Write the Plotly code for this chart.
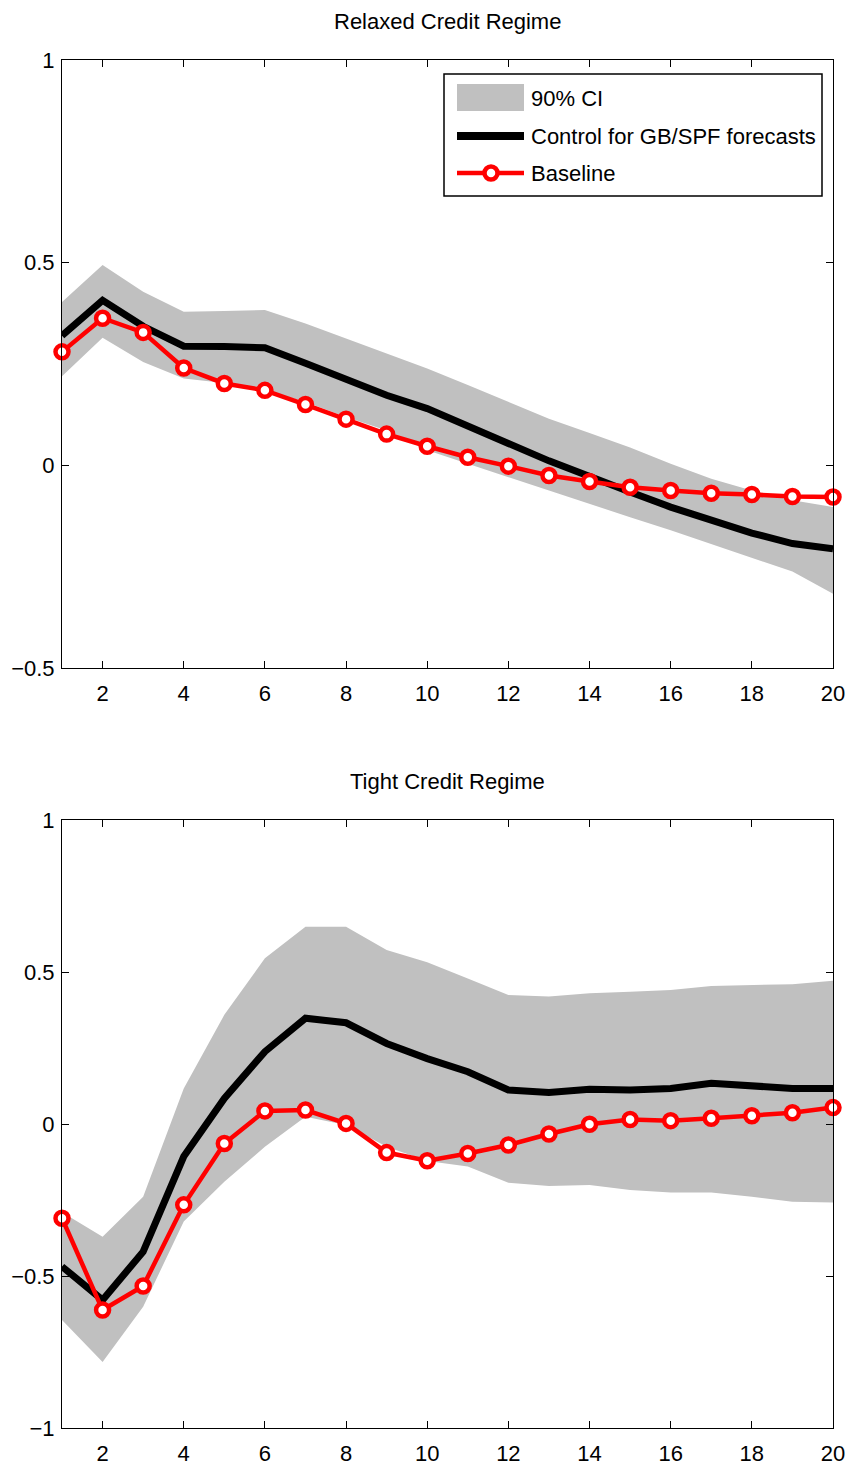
import plotly.graph_objects as go

horizon = list(range(1, 21))

# Relaxed credit regime
relaxed_baseline = [0.28, 0.363, 0.328, 0.24, 0.202, 0.185, 0.15, 0.114, 0.077, 0.047,
                    0.02, -0.002, -0.025, -0.04, -0.054, -0.062, -0.069, -0.072, -0.077, -0.078]
relaxed_control = [0.32, 0.407, 0.343, 0.294, 0.293, 0.29, 0.252, 0.212, 0.173, 0.14,
                   0.099, 0.054, 0.011, -0.029, -0.066, -0.103, -0.136, -0.167, -0.193, -0.206]
relaxed_ci_upper = [0.403, 0.494, 0.428, 0.379, 0.381, 0.383, 0.35, 0.313, 0.276, 0.239,
                    0.198, 0.156, 0.115, 0.08, 0.044, 0.004, -0.033, -0.062, -0.086, -0.103]
relaxed_ci_lower = [0.22, 0.315, 0.255, 0.214, 0.203, 0.185, 0.156, 0.119, 0.086, 0.037,
                    0.004, -0.029, -0.062, -0.095, -0.128, -0.16, -0.193, -0.228, -0.262, -0.317]

# Tight credit regime
tight_baseline = [-0.31, -0.612, -0.533, -0.266, -0.064, 0.043, 0.046, 0.002, -0.094, -0.121,
                  -0.097, -0.069, -0.033, -0.001, 0.015, 0.011, 0.019, 0.027, 0.037, 0.054]
tight_control = [-0.469, -0.579, -0.42, -0.107, 0.084, 0.238, 0.348, 0.333, 0.265, 0.215,
                 0.172, 0.112, 0.104, 0.114, 0.112, 0.117, 0.134, 0.126, 0.117, 0.117]
tight_ci_upper = [-0.29, -0.371, -0.239, 0.117, 0.359, 0.545, 0.649, 0.649, 0.572, 0.532,
                  0.479, 0.424, 0.419, 0.43, 0.435, 0.441, 0.454, 0.457, 0.46, 0.471]
tight_ci_lower = [-0.645, -0.783, -0.601, -0.321, -0.19, -0.075, 0.024, -0.003, -0.075, -0.122,
                  -0.14, -0.193, -0.204, -0.201, -0.217, -0.225, -0.225, -0.239, -0.256, -0.258]

titles = ["Relaxed Credit Regime", "Tight Credit Regime"]
legend_labels = ["90% CI", "Control for GB/SPF forecasts", "Baseline"]
x_ticks = list(range(2, 21, 2))

FONT = "Liberation Sans Narrow, Liberation Sans, Arial, sans-serif"
FS = 22
GRAY = "#c0c0c0"
RED = "#ff0000"

W, H = 852, 1471
ML, MR, MT, MB = 62, 19, 60, 43
PW, PH = W - ML - MR, H - MT - MB


def px_x(px):
    return (px - ML) / PW


def px_y(py):
    return (H - MB - py) / PH


fig = go.Figure()

panels = [
    (relaxed_baseline, relaxed_control, relaxed_ci_upper, relaxed_ci_lower, "x", "y"),
    (tight_baseline, tight_control, tight_ci_upper, tight_ci_lower, "x2", "y2"),
]

for base, ctrl, up, lo, xa, ya in panels:
    fig.add_trace(go.Scatter(
        x=horizon + horizon[::-1], y=up + lo[::-1], fill="toself",
        fillcolor=GRAY, line=dict(width=0, color=GRAY), mode="lines",
        name=legend_labels[0], showlegend=False, xaxis=xa, yaxis=ya, hoverinfo="skip"))
    fig.add_trace(go.Scatter(
        x=horizon, y=ctrl, mode="lines", line=dict(color="black", width=7),
        name=legend_labels[1], showlegend=False, xaxis=xa, yaxis=ya))
    fig.add_trace(go.Scatter(
        x=horizon, y=base, mode="lines+markers", line=dict(color=RED, width=4.5),
        marker=dict(symbol="circle", size=13, color="white", line=dict(color=RED, width=4.5)),
        name=legend_labels[2], showlegend=False, xaxis=xa, yaxis=ya, cliponaxis=False))

axis_common = dict(showline=True, linecolor="black", linewidth=1, mirror="ticks",
                   ticks="inside", ticklen=7, tickcolor="black", showgrid=False,
                   zeroline=False, automargin=False,
                   tickfont=dict(family=FONT, size=FS, color="black"))

top_bottom = px_y(668)
bot_top = px_y(820)

# manual legend (box, swatches, labels)
shapes = [
    dict(type="rect", xref="paper", yref="paper", x0=px_x(444), x1=px_x(822),
         y0=px_y(196), y1=px_y(74), line=dict(color="black", width=1.5), fillcolor="white",
         layer="above"),
    dict(type="rect", xref="paper", yref="paper", x0=px_x(457), x1=px_x(524),
         y0=px_y(111), y1=px_y(84), line=dict(width=0), fillcolor=GRAY, layer="above"),
    dict(type="line", xref="paper", yref="paper", x0=px_x(457), x1=px_x(524),
         y0=px_y(136), y1=px_y(136), line=dict(color="black", width=8), layer="above"),
    dict(type="line", xref="paper", yref="paper", x0=px_x(457), x1=px_x(524),
         y0=px_y(173), y1=px_y(173), line=dict(color=RED, width=4.5), layer="above"),
    dict(type="circle", xref="paper", yref="paper", x0=px_x(491 - 6.5), x1=px_x(491 + 6.5),
         y0=px_y(173 + 6.5), y1=px_y(173 - 6.5), line=dict(color=RED, width=4.5),
         fillcolor="white", layer="above"),
]

annotations = [
    dict(text=titles[0], x=0.5, y=1, xref="paper", yref="paper", xanchor="center",
         yanchor="bottom", yshift=24, showarrow=False, font=dict(family=FONT, size=FS)),
    dict(text=titles[1], x=0.5, y=bot_top, xref="paper", yref="paper", xanchor="center",
         yanchor="bottom", yshift=24, showarrow=False, font=dict(family=FONT, size=FS)),
]
for lab, cy in zip(legend_labels, [98, 136, 173]):
    annotations.append(dict(text=lab, x=px_x(529), y=px_y(cy), xref="paper", yref="paper",
                            xanchor="left", yanchor="middle", showarrow=False,
                            font=dict(family=FONT, size=FS, color="black")))

fig.update_layout(
    width=W, height=H,
    margin=dict(l=ML, r=MR, t=MT, b=MB),
    paper_bgcolor="white", plot_bgcolor="white",
    font=dict(family=FONT, size=FS, color="black"),
    xaxis=dict(domain=[0, 1], anchor="y", range=[1, 20], tickvals=x_ticks,
               ticklabelstandoff=6, **axis_common),
    yaxis=dict(domain=[top_bottom, 1], anchor="x", range=[-0.5, 1],
               tickvals=[-0.5, 0, 0.5, 1], ticktext=["\u22120.5", "0", "0.5", "1"],
               ticklabelstandoff=2, **axis_common),
    xaxis2=dict(domain=[0, 1], anchor="y2", range=[1, 20], tickvals=x_ticks,
                ticklabelstandoff=6, **axis_common),
    yaxis2=dict(domain=[0, bot_top], anchor="x2", range=[-1, 1],
                tickvals=[-1, -0.5, 0, 0.5, 1],
                ticktext=["\u22121", "\u22120.5", "0", "0.5", "1"],
                ticklabelstandoff=2, **axis_common),
    showlegend=False,
    shapes=shapes,
    annotations=annotations,
)

fig.write_html("out.html")
